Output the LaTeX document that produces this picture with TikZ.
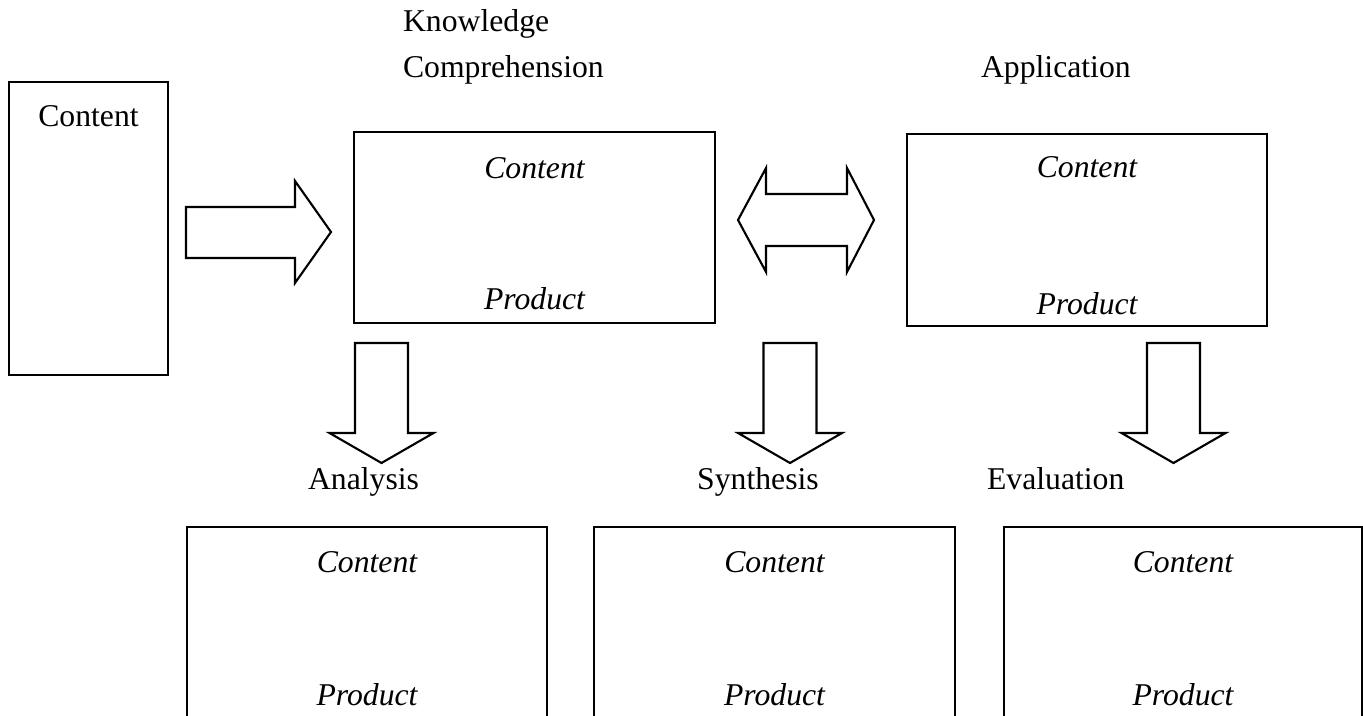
\documentclass[tikz,border=0pt]{standalone}
\usepackage{fontspec}
\setmainfont{Liberation Serif}
\tikzset{
  lbl/.style={font=\fontsize{12pt}{14pt}\selectfont, inner sep=0pt},
  itl/.style={lbl, font=\fontsize{12pt}{14pt}\selectfont\itshape}
}
\begin{document}
\begin{tikzpicture}[x=0.0133cm,y=-0.0133cm,line width=0.8pt]
\useasboundingbox (0,0) rectangle (1363,716);

% boxes
\draw (9,82) rectangle (168,375);
\draw (354,132) rectangle (715,323);
\draw (907,134) rectangle (1267,326);
\draw (187,716) -- (187,527) -- (547,527) -- (547,716);
\draw (594,716) -- (594,527) -- (955,527) -- (955,716);
\draw (1004,716) -- (1004,527) -- (1362,527) -- (1362,716);

% block arrows
\draw (186,207) -- (295,207) -- (295,181) -- (331,232) -- (295,283) -- (295,258) -- (186,258) -- cycle;
\draw (738,220) -- (766,168) -- (766,194) -- (847,194) -- (847,168) -- (874,220) -- (847,272) -- (847,246) -- (766,246) -- (766,272) -- cycle;
\foreach \cx in {381.5,790,1173.5}
  \draw (\cx-26.5,343) -- (\cx+26.5,343) -- (\cx+26.5,433) -- (\cx+52,433) -- (\cx,463) -- (\cx-52,433) -- (\cx-26.5,433) -- cycle;

% labels
\node [lbl, anchor=base] (src) at (88.5,127) {Content};
\node [lbl, anchor=base west] (know) at (402,32) {Knowledge};
\node [lbl, anchor=base west] (comp) at (402,78) {Comprehension};
\node [lbl, anchor=base west] (appl) at (980,78) {Application};
\node [lbl, anchor=base west] (anal) at (307,490) {Analysis};
\node [lbl, anchor=base] (synth) at (758,490) {Synthesis};
\node [lbl, anchor=base west] (eval) at (986,490) {Evaluation};

\node [itl, anchor=base] (compC) at (534.5,179) {Content};
\node [itl, anchor=base] (compP) at (534.5,310) {Product};
\node [itl, anchor=base] (applC) at (1087,178) {Content};
\node [itl, anchor=base] (applP) at (1087,315) {Product};

\node [itl, anchor=base] (analC) at (367,572) {Content};
\node [itl, anchor=base] (analP) at (367,705) {Product};
\node [itl, anchor=base] (synthC) at (774.5,572) {Content};
\node [itl, anchor=base] (synthP) at (774.5,705) {Product};
\node [itl, anchor=base] (evalC) at (1183,572) {Content};
\node [itl, anchor=base] (evalP) at (1183,705) {Product};
\end{tikzpicture}
\end{document}
